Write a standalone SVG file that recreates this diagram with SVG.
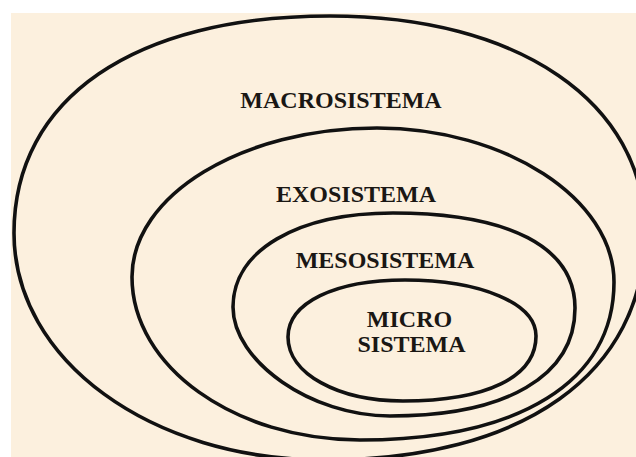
<svg xmlns="http://www.w3.org/2000/svg" width="636" height="457" viewBox="0 0 636 457">
<style>
.ring{fill:none;stroke:#111;stroke-width:3.6;stroke-linejoin:round}
.lbl{font-family:"Liberation Serif","Times New Roman",serif;font-weight:bold;font-size:24px;fill:#1a1714;text-anchor:middle}
</style>
<rect x="0" y="0" width="636" height="457" fill="#ffffff"/>
<rect x="11" y="13" width="625" height="444" fill="#fcf0de"/>
<g id="macrosistema">
<path class="ring" d="M14,233 C14,98.5 134.1,16 330,16 C519,16 645,102.4 645,232 C645,373.4 523.4,460 325,460 C150.8,460 14,360.1 14,233 Z"/>
<text class="lbl" x="341" y="108">MACROSISTEMA</text>
</g>
<g id="exosistema">
<path class="ring" d="M132,277 C132,195 242.25,128 377,128 C505,128 614,198.8 614,282 C614,381.5 520,440 360,440 C234.6,440 132,366.7 132,277 Z"/>
<text class="lbl" x="356" y="202">EXOSISTEMA</text>
</g>
<g id="mesosistema">
<path class="ring" d="M233,307 C233,250.6 297,213 393,213 C509.5,213 575,247.2 575,308 C575,376 506.6,416 390,416 C311.5,416 233,361.5 233,307 Z"/>
<text class="lbl" x="385" y="268">MESOSISTEMA</text>
</g>
<g id="microsistema">
<path class="ring" d="M288,337 C288,302.8 334.8,280 405,280 C481,280 536,303.5 536,336 C536,377 486.8,401 403,401 C337.4,401 288,373.5 288,337 Z"/>
<text class="lbl" x="409.5" y="327">MICRO</text>
<text class="lbl" x="411.5" y="352">SISTEMA</text>
</g>
<g id="connectors"></g>
</svg>
